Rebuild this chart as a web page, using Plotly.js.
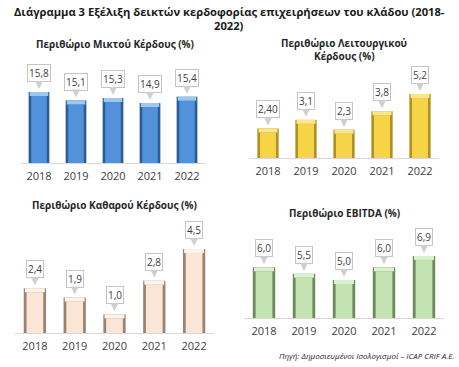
<!DOCTYPE html>
<html>
<head>
<meta charset="utf-8">
<script src="https://cdn.plot.ly/plotly-3.0.1.min.js"></script>
<style>html,body{margin:0;padding:0;background:#fff;}#chart{width:459px;height:367px;}</style>
</head>
<body>
<div id="chart"></div>
<script>
const years = ['2018', '2019', '2020', '2021', '2022'];
const grossMargin = [15.8, 15.1, 15.3, 14.9, 15.4];
const grossLabels = ['15,8', '15,1', '15,3', '14,9', '15,4'];
const operatingMargin = [2.40, 3.1, 2.3, 3.8, 5.2];
const operatingLabels = ['2,40', '3,1', '2,3', '3,8', '5,2'];
const netMargin = [2.4, 1.9, 1.0, 2.8, 4.5];
const netLabels = ['2,4', '1,9', '1,0', '2,8', '4,5'];
const ebitdaMargin = [6.0, 5.5, 5.0, 6.0, 6.9];
const ebitdaLabels = ['6,0', '5,5', '5,0', '6,0', '6,9'];

const W = 459, H = 367;
const FONT = 'Open Sans, sans-serif';

// pixel layout of each panel: [x0, x1, baselineY, topY], y range
const panels = [
  {vals: grossMargin, labels: grossLabels, px: [20.5, 205.5, 163, 65], range: [10, 18],
   edge: '#2d5c94', main: '#5192da', cap: '#9cc8f0', ax: ''},
  {vals: operatingMargin, labels: operatingLabels, px: [249, 439, 158, 78], range: [0, 6.5],
   edge: '#b09020', main: '#f6d448', cap: '#fbe68e', ax: '2'},
  {vals: netMargin, labels: netLabels, px: [15, 214, 333, 236], range: [0, 5.2],
   edge: '#9c8272', main: '#fbe6d6', cap: '#fff4ec', ax: '3'},
  {vals: ebitdaMargin, labels: ebitdaLabels, px: [244, 444, 318, 242], range: [2, 8],
   edge: '#6c8a5c', main: '#c4e3b2', cap: '#dcf0d0', ax: '4'}
];

const data = [];
const annotations = [];
const layout = {
  width: W, height: H,
  margin: {l: 0, r: 0, t: 0, b: 0},
  paper_bgcolor: '#ffffff', plot_bgcolor: 'rgba(0,0,0,0)',
  showlegend: false, barmode: 'overlay',
  font: {family: FONT, color: '#404040'},
  hovermode: false
};

panels.forEach(p => {
  const xa = 'x' + p.ax, ya = 'y' + p.ax;
  const pxPerUnit = (p.px[2] - p.px[3]) / (p.range[1] - p.range[0]);
  const capH = 4 / pxPerUnit;
  const base = p.range[0];
  data.push({type: 'bar', x: years, y: p.vals.map(v => v - base), base: base, width: 0.56,
    marker: {color: p.edge, line: {width: 0}}, xaxis: xa, yaxis: ya});
  data.push({type: 'bar', x: years, y: p.vals.map(v => v - base - capH), base: base, width: 0.42,
    marker: {color: p.main, line: {width: 0}}, xaxis: xa, yaxis: ya});
  data.push({type: 'bar', x: years, y: p.vals.map(() => capH), base: p.vals.map(v => v - capH), width: 0.5,
    marker: {color: p.cap, line: {width: 0}}, xaxis: xa, yaxis: ya});
  const xKey = 'xaxis' + p.ax, yKey = 'yaxis' + p.ax;
  layout[xKey] = {
    domain: [p.px[0] / W, p.px[1] / W], anchor: ya, type: 'category',
    categoryorder: 'array', categoryarray: years, range: [-0.5, years.length - 0.5], autorange: false,
    showgrid: false, zeroline: false, showline: true, linecolor: '#d9d9d9', linewidth: 1,
    ticks: '', tickfont: {size: 11, color: '#404040', family: FONT}, ticklabelstandoff: 3,
    fixedrange: true
  };
  layout[yKey] = {
    domain: [1 - p.px[2] / H, 1 - p.px[3] / H], anchor: xa, range: p.range, autorange: false,
    showgrid: false, zeroline: false, showline: false, showticklabels: false, ticks: '',
    fixedrange: true
  };
  p.vals.forEach((v, i) => {
    annotations.push({
      x: i, y: v, xref: xa, yref: ya, text: p.labels[i],
      showarrow: true, ax: 0, ay: -19, arrowhead: 2, arrowsize: 1, arrowwidth: 1.6,
      arrowcolor: '#cfcfcf', standoff: 3,
      bgcolor: '#ffffff', bordercolor: '#c4c4c4', borderwidth: 1, borderpad: 1,
      font: {size: 10, color: '#404040', family: FONT}
    });
  });
});

function paperTitle(text, x, y, size, color) {
  annotations.push({
    text: text, x: x / W, y: 1 - y / H, xref: 'paper', yref: 'paper',
    xanchor: 'center', yanchor: 'middle', showarrow: false,
    font: {size: size, color: color || '#262626', family: FONT, weight: 'bold'}
  });
}

paperTitle('Διάγραμμα 3 Εξέλιξη δεικτών κερδοφορίας επιχειρήσεων του κλάδου (2018-', 229, 11, 11.2, '#1a1a1a');
paperTitle('2022)', 229, 25, 11.2, '#1a1a1a');
paperTitle('Περιθώριο Μικτού Κέρδους (%)', 115, 44, 10);
paperTitle('Περιθώριο Λειτουργικού', 344, 43, 10);
paperTitle('Κέρδους (%)', 344, 56, 10);
paperTitle('Περιθώριο Καθαρού Κέρδους (%)', 114, 205, 10);
paperTitle('Περιθώριο EBITDA (%)', 344, 213, 10);
annotations.push({
  text: 'Πηγή: Δημοσιευμένοι Ισολογισμοί – ICAP CRIF A.E.', x: 456 / W, y: 1 - 355 / H,
  xref: 'paper', yref: 'paper', xanchor: 'right', yanchor: 'middle', showarrow: false,
  font: {size: 8, color: '#262626', family: FONT, style: 'italic'}
});

layout.annotations = annotations;
Plotly.newPlot('chart', data, layout, {displayModeBar: false, staticPlot: true});
</script>
</body>
</html>
